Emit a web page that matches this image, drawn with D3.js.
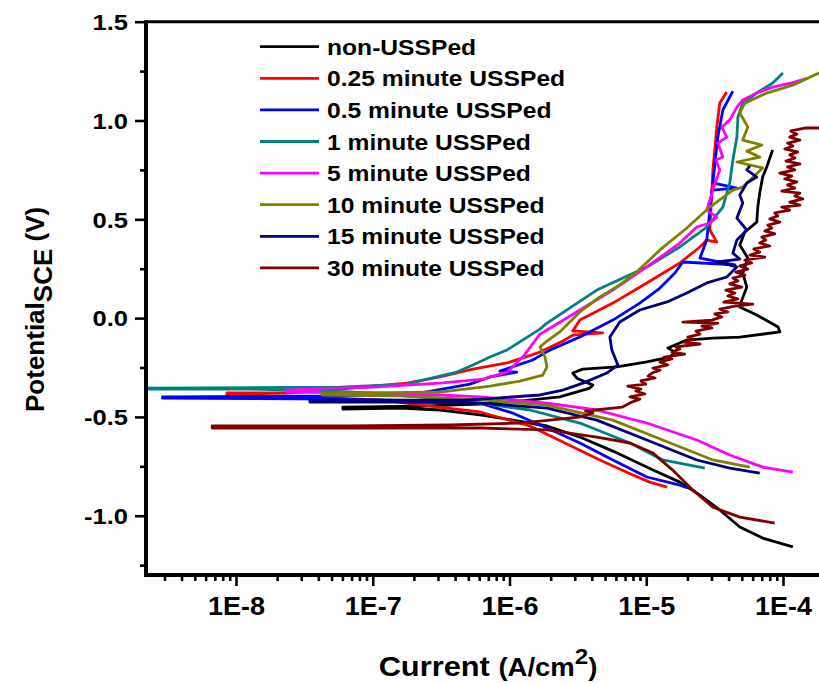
<!DOCTYPE html>
<html>
<head>
<meta charset="utf-8">
<script src="https://cdn.jsdelivr.net/npm/d3@7"></script>
<style>
  body { margin: 0; background: #fff; }
  svg { display: block; }
</style>
</head>
<body>
<svg id="chart" width="819" height="683"></svg>
<script>
// current in A/cm2, potential in V (SCE)
var nonUSSPed = [[1.18e-4,-1.158],[7.1e-5,-1.113],[4.83e-5,-1.057],[3.45e-5,-0.971],[2.34e-5,-0.885],[1.76e-5,-0.830],[1.12e-5,-0.769],[5.7e-6,-0.673],[3.27e-6,-0.602],[1.88e-6,-0.546],[1.06e-6,-0.516],[6.08e-7,-0.490],[3.1e-7,-0.465],[1.58e-7,-0.455],[6.05e-8,-0.460],[6.05e-8,-0.450],[2.21e-7,-0.445],[6.08e-7,-0.435],[1.19e-6,-0.420],[2.33e-6,-0.399],[3.87e-6,-0.354],[4.07e-6,-0.339],[3.11e-6,-0.304],[2.9e-6,-0.278],[3.44e-6,-0.258],[6.1e-6,-0.247],[1.01e-5,-0.222],[1.49e-5,-0.197],[1.62e-5,-0.172],[1.44e-5,-0.151],[1.98e-5,-0.111],[3.07e-5,-0.101],[4.83e-5,-0.096],[9.5e-5,-0.070],[9.2e-5,-0.045],[6.43e-5,0.016],[4.83e-5,0.056],[5.0e-5,0.092],[5.44e-5,0.157],[5.08e-5,0.228],[5.53e-5,0.304],[4.83e-5,0.370],[5.26e-5,0.436],[6.43e-5,0.486],[6.54e-5,0.562],[6.76e-5,0.633],[7.1e-5,0.714],[7.6e-5,0.765],[8.4e-5,0.851]];

var min025 = [[1.42e-5,-0.855],[1.06e-5,-0.830],[7.98e-6,-0.794],[4.58e-6,-0.718],[2.54e-6,-0.632],[1.41e-6,-0.546],[6.08e-7,-0.475],[2.62e-7,-0.445],[1.13e-7,-0.414],[2.94e-8,-0.399],[8.6e-9,-0.389],[8.6e-9,-0.379],[2.36e-8,-0.379],[5.75e-8,-0.359],[1.78e-7,-0.329],[3.1e-7,-0.298],[5.4e-7,-0.258],[9.6e-7,-0.227],[1.67e-6,-0.172],[2.46e-6,-0.116],[2.9e-6,-0.086],[4.8e-6,-0.075],[2.9e-6,-0.065],[3.27e-6,-0.010],[5.7e-6,0.076],[1.01e-5,0.178],[1.76e-5,0.279],[2.47e-5,0.360],[2.77e-5,0.395],[3.28e-5,0.385],[2.92e-5,0.446],[3.02e-5,0.648],[3.07e-5,0.750],[3.17e-5,0.851],[3.28e-5,0.967],[3.45e-5,1.088],[3.88e-5,1.144]];

var min05 = [[2.01e-5,-0.860],[1.76e-5,-0.845],[1.01e-5,-0.804],[5.7e-6,-0.718],[3.27e-6,-0.632],[1.88e-6,-0.556],[1.06e-6,-0.481],[6.08e-7,-0.430],[3.1e-7,-0.420],[5.75e-8,-0.410],[2.9e-9,-0.405],[2.9e-9,-0.399],[5.75e-8,-0.394],[2.21e-7,-0.379],[5.14e-7,-0.334],[7.2e-7,-0.298],[1.13e-6,-0.273],[8.5e-7,-0.268],[1.48e-6,-0.212],[1.97e-6,-0.162],[3.27e-6,-0.096],[5.7e-6,-0.010],[8.97e-6,0.076],[1.26e-5,0.152],[1.62e-5,0.228],[1.85e-5,0.284],[4.45e-5,0.269],[2.47e-5,0.304],[2.77e-5,0.395],[2.92e-5,0.547],[3.02e-5,0.648],[4.6e-5,0.658],[3.07e-5,0.684],[3.17e-5,0.775],[3.34e-5,0.916],[3.63e-5,1.053],[4.3e-5,1.149]];

var min1 = [[2.68e-5,-0.759],[1.32e-5,-0.718],[7.6e-6,-0.632],[3.27e-6,-0.531],[1.41e-6,-0.465],[6.08e-7,-0.430],[2.21e-7,-0.399],[6.8e-8,-0.374],[1.27e-8,-0.359],[2.2e-9,-0.359],[2.2e-9,-0.355],[5.75e-8,-0.350],[1.78e-7,-0.334],[3.1e-7,-0.293],[4.12e-7,-0.273],[5.4e-7,-0.237],[7.2e-7,-0.197],[9.6e-7,-0.161],[1.67e-6,-0.056],[1.88e-6,-0.025],[4.35e-6,0.142],[1.01e-5,0.259],[1.76e-5,0.360],[2.77e-5,0.461],[3.63e-5,0.562],[4.08e-5,0.684],[4.3e-5,0.800],[4.6e-5,0.916],[4.68e-5,1.018],[5.08e-5,1.088],[6.43e-5,1.139],[8.4e-5,1.190],[1.0e-4,1.240]];

var min5 = [[1.18e-4,-0.779],[7.1e-5,-0.754],[4.08e-5,-0.693],[2.34e-5,-0.617],[1.01e-5,-0.531],[4.35e-6,-0.465],[1.88e-6,-0.430],[6.08e-7,-0.399],[3.1e-7,-0.389],[1.13e-7,-0.379],[2.36e-8,-0.374],[2.36e-8,-0.364],[5.75e-8,-0.354],[1.0e-7,-0.349],[3.1e-7,-0.329],[6.4e-7,-0.309],[9.6e-7,-0.273],[1.25e-6,-0.197],[1.67e-6,-0.081],[1.88e-6,-0.060],[3.27e-6,0.041],[5.7e-6,0.142],[1.01e-5,0.259],[1.76e-5,0.380],[2.34e-5,0.461],[2.92e-5,0.481],[3.28e-5,0.511],[2.77e-5,0.547],[3.07e-5,0.648],[3.45e-5,0.750],[3.23e-5,0.800],[3.63e-5,0.815],[3.34e-5,0.886],[3.88e-5,0.916],[3.57e-5,0.967],[4.08e-5,1.003],[4.6e-5,1.068],[5.08e-5,1.104],[6.43e-5,1.139],[8.4e-5,1.169],[1.16e-4,1.190],[1.52e-4,1.215]];

var min10 = [[5.72e-5,-0.754],[3.07e-5,-0.718],[1.32e-5,-0.617],[5.7e-6,-0.516],[1.88e-6,-0.440],[6.08e-7,-0.414],[1.58e-7,-0.394],[4.25e-8,-0.389],[4.25e-8,-0.379],[1.0e-7,-0.379],[3.1e-7,-0.374],[7.2e-7,-0.344],[1.19e-6,-0.319],[1.75e-6,-0.289],[1.88e-6,-0.247],[1.82e-6,-0.197],[1.67e-6,-0.146],[1.88e-6,-0.116],[2.33e-6,-0.070],[3.27e-6,0.031],[4.58e-6,0.107],[6.4e-6,0.168],[8.5e-6,0.233],[1.26e-5,0.345],[1.98e-5,0.456],[2.92e-5,0.562],[4.3e-5,0.648],[5.08e-5,0.663],[7.1e-5,0.760],[4.6e-5,0.790],[6.76e-5,0.815],[5.44e-5,0.845],[7.0e-5,0.876],[5.08e-5,0.901],[5.53e-5,0.967],[4.83e-5,1.038],[5.26e-5,1.088],[7.6e-5,1.139],[1.18e-4,1.179],[1.83e-4,1.240],[2.6e-4,1.275]];

var min15 = [[6.76e-5,-0.784],[4.08e-5,-0.759],[2.34e-5,-0.718],[1.01e-5,-0.617],[4.35e-6,-0.516],[1.88e-6,-0.455],[6.08e-7,-0.430],[1.58e-7,-0.425],[3.47e-8,-0.425],[3.47e-8,-0.415],[1.58e-7,-0.415],[4.88e-7,-0.415],[1.67e-6,-0.389],[2.46e-6,-0.364],[3.44e-6,-0.329],[5.15e-6,-0.278],[6.2e-6,-0.237],[5.6e-6,-0.161],[5.42e-6,-0.096],[6.4e-6,-0.020],[8.97e-6,0.041],[1.42e-5,0.082],[1.98e-5,0.127],[2.77e-5,0.178],[3.88e-5,0.208],[4.6e-5,0.259],[3.3e-5,0.284],[4.83e-5,0.299],[4.3e-5,0.329],[4.6e-5,0.395],[5.44e-5,0.446],[4.6e-5,0.506],[5.08e-5,0.582],[4.83e-5,0.623],[5.44e-5,0.684],[6.43e-5,0.714],[5.44e-5,0.750],[5.72e-5,0.770]];

var min30 = [[8.7e-5,-1.037],[4.83e-5,-1.007],[3.07e-5,-0.957],[2.19e-5,-0.870],[1.56e-5,-0.769],[1.12e-5,-0.683],[7.6e-6,-0.632],[4.35e-6,-0.602],[1.88e-6,-0.566],[6.08e-7,-0.556],[1.58e-7,-0.556],[2.94e-8,-0.556],[6.7e-9,-0.556],
  [6.7e-9,-0.546],[6.8e-8,-0.546],[3.67e-7,-0.541],[1.19e-6,-0.531],[2.33e-6,-0.511],[3.3e-6,-0.500],[4.07e-6,-0.480],[3.6e-6,-0.470],[6.7e-6,-0.450],
  [7.85e-6,-0.425],[8.97e-6,-0.410],[7.6e-6,-0.399],[9.77e-6,-0.384],[8.39e-6,-0.369],[9.14e-6,-0.359],[7.33e-6,-0.344],[9.93e-6,-0.334],[9.14e-6,-0.318],[1.16e-5,-0.303],[1.03e-5,-0.293],[1.10e-5,-0.278],[1.26e-5,-0.263],[1.12e-5,-0.253],[1.44e-5,-0.237],[1.26e-5,-0.222],[1.54e-5,-0.207],[1.35e-5,-0.197],[1.91e-5,-0.182],[1.54e-5,-0.172],[1.76e-5,-0.156],[1.64e-5,-0.146],[2.47e-5,-0.131],[1.88e-5,-0.121],[2.23e-5,-0.106],[2.01e-5,-0.096],[2.47e-5,-0.081],[2.31e-5,-0.066],[3.02e-5,-0.050],[2.55e-5,-0.040],[3.34e-5,-0.025],[1.85e-5,-0.020],[3.02e-5,-0.010],[3.57e-5,0.006],[3.17e-5,0.021],[3.95e-5,0.031],[3.45e-5,0.046],[4.45e-5,0.061],[6.01e-5,0.071],[3.69e-5,0.081],[4.68e-5,0.097],[3.95e-5,0.112],[4.45e-5,0.127],[3.82e-5,0.142],[5.0e-5,0.157],[4.08e-5,0.173],[4.68e-5,0.188],[4.3e-5,0.203],[5.26e-5,0.218],[4.52e-5,0.233],[5.53e-5,0.248],[4.83e-5,0.264],[5.91e-5,0.279],[5.26e-5,0.294],[7.36e-5,0.309],[5.72e-5,0.319],[6.76e-5,0.334],[6.12e-5,0.350],[8.0e-5,0.365],[6.76e-5,0.380],[7.48e-5,0.395],[7.0e-5,0.410],[8.71e-5,0.426],[7.36e-5,0.441],[8.28e-5,0.456],[7.74e-5,0.471],[9.48e-5,0.486],[8.0e-5,0.502],[9.16e-5,0.517],[8.71e-5,0.532],[1.12e-4,0.547],[9.8e-5,0.562],[1.33e-4,0.572],[1.12e-4,0.587],[1.40e-4,0.603],[1.22e-4,0.618],[1.33e-4,0.633],[9.8e-5,0.643],[1.22e-4,0.658],[1.08e-4,0.674],[1.26e-4,0.689],[1.03e-4,0.704],[1.16e-4,0.719],[9.48e-5,0.734],[1.22e-4,0.750],[1.08e-4,0.765],[1.33e-4,0.780],[1.05e-4,0.795],[1.22e-4,0.810],[1.12e-4,0.826],[1.28e-4,0.841],[1.03e-4,0.856],[1.18e-4,0.871],[1.08e-4,0.886],[1.33e-4,0.901],[1.12e-4,0.916],[1.26e-4,0.931],[1.14e-4,0.947],[1.44e-4,0.962],[1.83e-4,0.962],[2.6e-4,0.962]];

var seriesData = [nonUSSPed, min025, min05, min1, min5, min10, min15, min30];
var seriesNames = ["non-USSPed", "0.25 minute USSPed", "0.5 minute USSPed", "1 minute USSPed",
  "5 minute USSPed", "10 minute USSPed", "15 minute USSPed", "30 minute USSPed"];
var seriesColors = ["#000000", "#ff0000", "#0000ff", "#008080", "#ff00ff", "#808000", "#000080", "#800000"];

var xMajor = [1e-8, 1e-7, 1e-6, 1e-5, 1e-4];
var xTickLabels = ["1E-8", "1E-7", "1E-6", "1E-5", "1E-4"];
var yMajor = [-1.0, -0.5, 0.0, 0.5, 1.0, 1.5];
var yTickLabels = ["-1.0", "-0.5", "0.0", "0.5", "1.0", "1.5"];
var yMinor = [-1.25, -0.75, -0.25, 0.25, 0.75, 1.25];

var font = "'Liberation Sans', Arial, sans-serif";
var svg = d3.select('#chart');
var plotL = 146, plotT = 21.7, plotB = 575, plotR = 870;

var x = d3.scaleLog().domain([1e-8, 1e-4]).range([236, 783]);
var y = d3.scaleLinear().domain([-1.3, 1.5]).range([plotB, plotT]);

svg.append('defs').append('clipPath').attr('id', 'plot')
  .append('rect')
  .attr('x', plotL).attr('y', plotT)
  .attr('width', plotR - plotL).attr('height', plotB - plotT);

// curves
var line = d3.line()
  .x(function (d) { return x(d[0]); })
  .y(function (d) { return y(d[1]); });

seriesData.forEach(function (s, i) {
  svg.append('path')
    .attr('clip-path', 'url(#plot)')
    .attr('d', line(s))
    .attr('fill', 'none')
    .attr('stroke', seriesColors[i])
    .attr('stroke-width', 2.8)
    .attr('stroke-linejoin', 'round');
});

// x axis minor ticks (2..9 in each decade)
var xMinor = [];
for (var e = -9; e <= -4; e++) {
  for (var k = 2; k <= 9; k++) {
    var v = k * Math.pow(10, e);
    if (x(v) > plotL + 2 && x(v) < 819) xMinor.push(v);
  }
}

var gxMinor = svg.append('g')
  .attr('transform', 'translate(0,' + plotB + ')')
  .call(d3.axisBottom(x).tickValues(xMinor).tickSize(6).tickFormat(''));
var gxMajor = svg.append('g')
  .attr('transform', 'translate(0,' + plotB + ')')
  .call(d3.axisBottom(x).tickValues(xMajor).tickSize(11).tickPadding(6)
    .tickFormat(function (d, i) { return xTickLabels[i]; }));

var gyMinor = svg.append('g')
  .attr('transform', 'translate(' + plotL + ',0)')
  .call(d3.axisLeft(y).tickValues(yMinor).tickSize(6).tickFormat(''));
var gyMajor = svg.append('g')
  .attr('transform', 'translate(' + plotL + ',0)')
  .call(d3.axisLeft(y).tickValues(yMajor).tickSize(11).tickPadding(5)
    .tickFormat(function (d, i) { return yTickLabels[i]; }));

[gxMinor, gxMajor, gyMinor, gyMajor].forEach(function (g) {
  g.select('.domain').remove();
  g.selectAll('.tick line').attr('stroke', '#000').attr('stroke-width', 2.6);
});

gxMajor.selectAll('.tick text')
  .attr('fill', '#000')
  .attr('font-family', font)
  .attr('font-weight', 'bold')
  .attr('font-size', '25px')
  .attr('x', 0)
  .attr('y', 22 )
  .attr('dy', '0.71em')
  .attr('transform', 'scale(1.08,1)');

gyMajor.selectAll('.tick text')
  .attr('fill', '#000')
  .attr('font-family', font)
  .attr('font-weight', 'bold')
  .attr('font-size', '22px')
  .attr('x', -18 / 1.16)
  .attr('dy', '0.35em')
  .attr('transform', 'scale(1.16,1)');

// axis lines
svg.append('line').attr('x1', plotL).attr('x2', plotL).attr('y1', plotT - 1.5).attr('y2', plotB + 2)
  .attr('stroke', '#000').attr('stroke-width', 4);
svg.append('line').attr('x1', plotL - 2).attr('x2', 830).attr('y1', plotB).attr('y2', plotB)
  .attr('stroke', '#000').attr('stroke-width', 4);
svg.append('line').attr('x1', plotL).attr('x2', 830).attr('y1', plotT).attr('y2', plotT)
  .attr('stroke', '#000').attr('stroke-width', 3);

// legend
var legend = svg.append('g').attr('transform', 'translate(260,46.7)');
seriesNames.forEach(function (name, i) {
  var row = legend.append('g').attr('transform', 'translate(0,' + (i * 31.6) + ')');
  row.append('line').attr('x1', 0).attr('x2', 59).attr('y1', 0).attr('y2', 0)
    .attr('stroke', seriesColors[i]).attr('stroke-width', 2.8);
  row.append('text')
    .attr('transform', 'translate(67,8) scale(1.12,1)')
    .attr('font-family', font)
    .attr('font-weight', 'bold')
    .attr('font-size', '22px')
    .attr('fill', '#000')
    .text(name);
});

// axis titles
var yTitle = svg.append('text')
  .attr('transform', 'translate(44,412) rotate(-90)')
  .attr('text-anchor', 'start')
  .attr('font-family', font)
  .attr('font-weight', 'bold')
  .attr('font-size', '26px')
  .attr('fill', '#000');
yTitle.append('tspan').text('Potential');
yTitle.append('tspan').attr('dy', 8).attr('font-size', '26px').text('SCE');
yTitle.append('tspan').attr('dy', -8).text(' (V)');

var xTitle = svg.append('text')
  .attr('transform', 'translate(488,676) scale(1.1,1)')
  .attr('text-anchor', 'middle')
  .attr('font-family', font)
  .attr('font-weight', 'bold')
  .attr('font-size', '28px')
  .attr('fill', '#000');
xTitle.append('tspan').text('Current ');
xTitle.append('tspan').attr('font-size', '25px').text('(A/cm');
xTitle.append('tspan').attr('dy', -12).attr('font-size', '22px').text('2');
xTitle.append('tspan').attr('dy', 12).attr('font-size', '25px').text(')');
</script>
</body>
</html>
